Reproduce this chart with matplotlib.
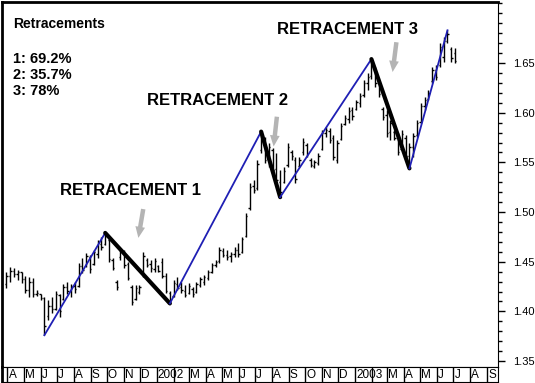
import pandas as pd
import matplotlib
matplotlib.use("Agg")
import matplotlib.pyplot as plt
import matplotlib.dates as mdates
from matplotlib.ticker import MultipleLocator, FixedLocator

plt.rcParams["font.family"] = ["Liberation Sans", "DejaVu Sans"]

# weekly bars, first week ends 30 Mar 2001
weeks = pd.date_range("2001-03-30", periods=119, freq="7D")

high = [1.440, 1.445, 1.444, 1.442, 1.440, 1.436, 1.435, 1.434, 1.422, 1.418,
        1.414, 1.411, 1.414, 1.421, 1.418, 1.428, 1.430, 1.428, 1.430, 1.449,
        1.454, 1.459, 1.457, 1.462, 1.472, 1.475, 1.479, 1.474, 1.454, 1.432,
        1.464, 1.462, 1.450, 1.427, 1.427, 1.427, 1.460, 1.454, 1.452, 1.454,
        1.447, 1.454, 1.439, 1.421, 1.432, 1.435, 1.430, 1.427, 1.429, 1.425,
        1.430, 1.435, 1.437, 1.442, 1.449, 1.452, 1.465, 1.464, 1.462, 1.460,
        1.465, 1.469, 1.475, 1.499, 1.529, 1.532, 1.552, 1.581, 1.576, 1.570,
        1.565, 1.559, 1.542, 1.545, 1.570, 1.562, 1.555, 1.555, 1.575, 1.570,
        1.554, 1.552, 1.559, 1.583, 1.586, 1.585, 1.578, 1.573, 1.590, 1.598,
        1.606, 1.606, 1.613, 1.620, 1.633, 1.640, 1.654, 1.646, 1.633, 1.606,
        1.603, 1.593, 1.583, 1.580, 1.583, 1.578, 1.570, 1.580, 1.593, 1.610,
        1.616, 1.623, 1.646, 1.648, 1.670, 1.676, 1.683, 1.666, 1.665]
low = [1.424, 1.430, 1.435, 1.432, 1.429, 1.419, 1.414, 1.414, 1.415, 1.411,
       1.376, 1.391, 1.398, 1.401, 1.394, 1.411, 1.418, 1.414, 1.419, 1.425,
       1.439, 1.445, 1.439, 1.447, 1.454, 1.462, 1.467, 1.450, 1.442, 1.422,
       1.452, 1.444, 1.432, 1.406, 1.411, 1.418, 1.435, 1.445, 1.440, 1.440,
       1.440, 1.434, 1.419, 1.408, 1.414, 1.422, 1.419, 1.414, 1.418, 1.414,
       1.419, 1.425, 1.427, 1.432, 1.439, 1.445, 1.449, 1.455, 1.452, 1.450,
       1.455, 1.455, 1.459, 1.475, 1.502, 1.519, 1.522, 1.559, 1.549, 1.545,
       1.539, 1.529, 1.515, 1.529, 1.545, 1.552, 1.529, 1.545, 1.557, 1.555,
       1.545, 1.544, 1.547, 1.562, 1.576, 1.570, 1.552, 1.549, 1.573, 1.588,
       1.590, 1.593, 1.603, 1.606, 1.616, 1.623, 1.634, 1.626, 1.616, 1.593,
       1.576, 1.573, 1.573, 1.557, 1.562, 1.552, 1.544, 1.555, 1.576, 1.590,
       1.603, 1.613, 1.630, 1.633, 1.646, 1.651, 1.670, 1.651, 1.650]
opens = [1.428, 1.436, 1.441, 1.438, 1.440, 1.433, 1.422, 1.430, 1.417, 1.417,
         1.413, 1.395, 1.405, 1.402, 1.416, 1.412, 1.425, 1.421, 1.426, 1.426,
         1.446, 1.447, 1.455, 1.448, 1.458, 1.468, 1.468, 1.472, 1.452, 1.430,
         1.455, 1.460, 1.448, 1.425, 1.412, 1.420, 1.437, 1.452, 1.448, 1.443,
         1.446, 1.450, 1.436, 1.419, 1.415, 1.428, 1.425, 1.421, 1.419, 1.423,
         1.420, 1.427, 1.430, 1.434, 1.440, 1.447, 1.451, 1.461, 1.457, 1.456,
         1.458, 1.462, 1.460, 1.476, 1.504, 1.526, 1.524, 1.562, 1.573, 1.553,
         1.562, 1.543, 1.530, 1.530, 1.547, 1.560, 1.552, 1.546, 1.560, 1.568,
         1.552, 1.546, 1.549, 1.563, 1.580, 1.582, 1.575, 1.552, 1.574, 1.589,
         1.594, 1.603, 1.604, 1.610, 1.618, 1.630, 1.637, 1.644, 1.630, 1.604,
         1.598, 1.581, 1.581, 1.576, 1.563, 1.575, 1.556, 1.566, 1.578, 1.591,
         1.607, 1.614, 1.632, 1.643, 1.648, 1.656, 1.672, 1.664, 1.660]
close = [1.436, 1.441, 1.438, 1.440, 1.433, 1.422, 1.430, 1.417, 1.419, 1.413,
         1.385, 1.405, 1.402, 1.418, 1.400, 1.425, 1.421, 1.426, 1.423, 1.446,
         1.442, 1.456, 1.443, 1.460, 1.470, 1.465, 1.476, 1.453, 1.444, 1.425,
         1.461, 1.447, 1.434, 1.409, 1.424, 1.425, 1.456, 1.447, 1.444, 1.451,
         1.441, 1.436, 1.421, 1.411, 1.429, 1.424, 1.422, 1.416, 1.426, 1.417,
         1.428, 1.433, 1.435, 1.440, 1.447, 1.450, 1.462, 1.457, 1.455, 1.458,
         1.462, 1.458, 1.473, 1.496, 1.525, 1.522, 1.548, 1.575, 1.552, 1.566,
         1.542, 1.532, 1.520, 1.541, 1.566, 1.556, 1.533, 1.552, 1.571, 1.558,
         1.547, 1.550, 1.556, 1.580, 1.583, 1.573, 1.555, 1.570, 1.587, 1.595,
         1.602, 1.597, 1.611, 1.617, 1.630, 1.636, 1.650, 1.630, 1.619, 1.596,
         1.580, 1.590, 1.575, 1.560, 1.579, 1.556, 1.566, 1.577, 1.590, 1.607,
         1.613, 1.620, 1.643, 1.636, 1.666, 1.672, 1.679, 1.655, 1.652]

# swing points joined by the retracement lines (low, high, low, high ...)
pivot_weeks = [10, 26, 43, 67, 72, 96, 106, 116]

month_starts = pd.date_range("2001-04-01", "2003-09-01", freq="MS")
month_labels = ["A", "M", "J", "J", "A", "S", "O", "N", "D", "2002", "",
                "M", "A", "M", "J", "J", "A", "S", "O", "N", "D", "2003", "",
                "M", "A", "M", "J", "J", "A", "S"]
price_ticks = [1.35, 1.40, 1.45, 1.50, 1.55, 1.60, 1.65]

titles = ["RETRACEMENT 1", "RETRACEMENT 2", "RETRACEMENT 3"]
title_dates = ["2001-07-07", "2001-12-13", "2002-08-10"]
title_prices = [1.522, 1.612, 1.684]
arrow_tips = [("2001-11-28", 1.474), ("2002-08-04", 1.566), ("2003-03-11", 1.641)]
arrow_tails = [("2001-12-07", 1.503), ("2002-08-10", 1.596), ("2003-03-18", 1.671)]
legend_lines = ["1: 69.2%", "2: 35.7%", "3: 78%"]

fig = plt.figure(figsize=(5.35, 3.83), dpi=100)
ax = fig.add_axes([2 / 535, 16 / 383, 496 / 535, 365 / 383])

x = mdates.date2num(weeks)
tick = 2.5
ax.vlines(x, low, high, color="black", lw=1.0)
ax.hlines(opens, x - tick, x, color="black", lw=1.0)
ax.hlines(close, x, x + tick, color="black", lw=1.0)

# retracement lines: blue for the moves up, thick black for the pullbacks
for k in range(len(pivot_weeks) - 1):
    a, b = pivot_weeks[k], pivot_weeks[k + 1]
    ya = low[a] if k % 2 == 0 else high[a]
    yb = high[b] if k % 2 == 0 else low[b]
    if k % 2 == 0:
        ax.plot([x[a], x[b]], [ya, yb], color="#1f1fb4", lw=1.3, zorder=3)
    else:
        ax.plot([x[a], x[b]], [ya, yb], color="black", lw=3.0, zorder=3,
                solid_capstyle="round")

for t, d, p in zip(titles, title_dates, title_prices):
    ax.text(mdates.date2num(pd.Timestamp(d)), p, t, fontsize=12,
            fontweight="bold", ha="left", va="center")

for tip, tail in zip(arrow_tips, arrow_tails):
    ax.annotate("", xy=(mdates.date2num(pd.Timestamp(tip[0])), tip[1]),
                xytext=(mdates.date2num(pd.Timestamp(tail[0])), tail[1]),
                arrowprops=dict(arrowstyle="simple,head_width=0.7,head_length=0.8,tail_width=0.32",
                                color="#b4b4b4", lw=0, shrinkA=0, shrinkB=0))

ax.text(0.022, 0.94, "Retracements", transform=ax.transAxes, fontsize=10,
        fontweight="bold", va="center")
for i, s in enumerate(legend_lines):
    ax.text(0.022, 0.845 - i * 0.044, s, transform=ax.transAxes,
            fontsize=10.5, fontweight="bold", va="center")

x0 = mdates.date2num(pd.Timestamp("2001-03-22"))
x1 = mdates.date2num(pd.Timestamp("2003-09-21"))
ax.set_xlim(x0, x1)
ax.set_ylim(1.344, 1.7115)
ax.set_xticks([])
ax.yaxis.tick_right()
ax.yaxis.set_major_locator(FixedLocator(price_ticks))
ax.yaxis.set_minor_locator(MultipleLocator(0.01))
ax.yaxis.set_major_formatter(plt.FormatStrFormatter("%.2f"))
ax.tick_params(axis="y", which="major", length=5, width=1, labelsize=8, pad=6)
ax.tick_params(axis="y", which="minor", length=3, width=1)
ax.spines["left"].set_linewidth(2)
ax.spines["top"].set_linewidth(2)

# month strip under the chart
ax2 = fig.add_axes([2 / 535, 1 / 383, 496 / 535, 15 / 383])
ax2.set_xlim(x0, x1)
ax2.set_ylim(0, 1)
ms = mdates.date2num(month_starts)
ax2.vlines(ms, 0, 1, color="black", lw=1)
for m, lab in zip(ms, month_labels):
    ax2.text(m + 2, 0.45, lab, fontsize=8.5, ha="left", va="center")
ax2.set_xticks([])
ax2.set_yticks([])
ax2.spines["left"].set_linewidth(2)

fig.savefig("out.png", dpi=100)
